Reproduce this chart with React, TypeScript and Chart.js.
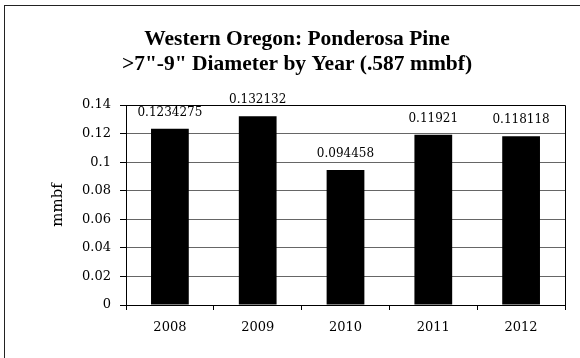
import React, { useEffect, useRef } from "react";
import { Chart, registerables } from "chart.js";

Chart.register(...registerables);

const years = ["2008", "2009", "2010", "2011", "2012"];
const values = [0.1234275, 0.132132, 0.094458, 0.11921, 0.118118];
const valueLabels = ["0.1234275", "0.132132", "0.094458", "0.11921", "0.118118"];
const titleLines = ["Western Oregon: Ponderosa Pine", '>7"-9" Diameter by Year (.587 mmbf)'];
const yAxisTitle = "mmbf";
const yMin = 0;
const yMax = 0.14;
const yStep = 0.02;

const labelPlugin = {
  id: "valueLabels",
  afterDatasetsDraw(chart: any) {
    const ctx = chart.ctx;
    const meta = chart.getDatasetMeta(0);
    ctx.save();
    ctx.font = "12px 'DejaVu Serif'";
    ctx.fillStyle = "#000";
    ctx.textAlign = "center";
    ctx.textBaseline = "middle";
    meta.data.forEach((bar: any, i: number) => {
      ctx.fillText(valueLabels[i], bar.x, bar.y - 16);
    });
    ctx.restore();
  },
};

const framePlugin = {
  id: "plotFrame",
  afterDraw(chart: any) {
    const { ctx, chartArea } = chart;
    ctx.save();
    ctx.strokeStyle = "#000";
    ctx.lineWidth = 1;
    ctx.beginPath();
    ctx.moveTo(Math.round(chartArea.left) + 0.5, Math.round(chartArea.top) + 0.5);
    ctx.lineTo(Math.round(chartArea.right) + 0.5, Math.round(chartArea.top) + 0.5);
    ctx.lineTo(Math.round(chartArea.right) + 0.5, Math.round(chartArea.bottom) + 0.5);
    ctx.stroke();
    ctx.restore();
  },
};

export default function App() {
  const ref = useRef<HTMLCanvasElement | null>(null);

  useEffect(() => {
    if (!ref.current) return;
    const chart = new Chart(ref.current, {
      type: "bar",
      data: {
        labels: years,
        datasets: [
          {
            data: values,
            backgroundColor: "#000",
            borderWidth: 0,
            barPercentage: 0.43,
            categoryPercentage: 1,
          },
        ],
      },
      options: {
        responsive: false,
        animation: false,
        layout: { padding: { left: 29, right: 15, top: 0, bottom: 13 } },
        plugins: {
          legend: { display: false },
          tooltip: { enabled: false },
          title: {
            display: true,
            text: titleLines,
            color: "#000",
            font: { family: "'Liberation Serif'", size: 21.5, weight: "bold", lineHeight: 25 / 21.5 },
            padding: { top: 27, bottom: 28 },
          },
        },
        scales: {
          x: {
            offset: true,
            afterFit: (s: any) => {
              s.height = 40;
            },
            grid: {
              offset: true,
              drawOnChartArea: false,
              drawTicks: true,
              tickLength: 5,
              tickColor: "#000",
            },
            border: { color: "#000", width: 1 },
            ticks: {
              color: "#000",
              padding: 10,
              font: { family: "'DejaVu Serif'", size: 13 },
              maxRotation: 0,
            },
          },
          y: {
            min: yMin,
            max: yMax,
            afterFit: (s: any) => {
              s.width = 97;
            },
            grid: {
              color: "#666",
              tickColor: "#000",
              tickLength: 6,
            },
            border: { color: "#000", width: 1 },
            ticks: {
              stepSize: yStep,
              color: "#000",
              padding: 9,
              font: { family: "'DejaVu Serif'", size: 13 },
              callback: (v: any) => String(+Number(v).toFixed(2)),
            },
            title: {
              display: true,
              text: yAxisTitle,
              color: "#000",
              font: { family: "'DejaVu Serif'", size: 15, lineHeight: 1.2 },
              padding: { top: 20, bottom: 0 },
            },
          },
        },
      },
      plugins: [labelPlugin, framePlugin],
    });
    return () => chart.destroy();
  }, []);

  return (
    <div
      style={{
        position: "fixed",
        left: 0,
        top: 0,
        width: 580,
        height: 358,
        background: "#fff",
        overflow: "hidden",
      }}
    >
      <div
        style={{
          position: "absolute",
          left: 4,
          top: 5,
          width: 620,
          height: 420,
          borderLeft: "1px solid #222",
          borderTop: "1px solid #222",
        }}
      />
      <canvas
        ref={ref}
        width={580}
        height={358}
        style={{ position: "absolute", left: 0, top: 0, width: 580, height: 358 }}
      />
    </div>
  );
}
